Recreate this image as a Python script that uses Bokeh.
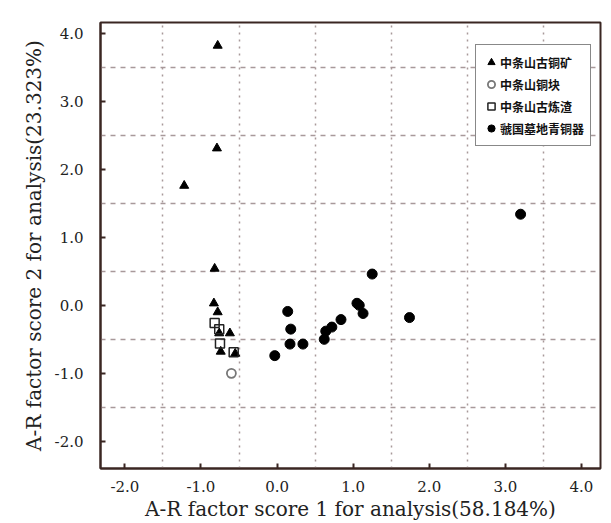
from bokeh.plotting import figure
from bokeh.models import Range1d, FixedTicker, PrintfTickFormatter, Legend, LegendItem
from bokeh.embed import file_html
from bokeh.resources import INLINE

# ---- data ----
x_ticks = [-2, -1, 0, 1, 2, 3, 4]
y_ticks = [-2, -1, 0, 1, 2, 3, 4]
x_grid = [-1.5, -0.5, 0.5, 1.5, 2.5, 3.5]
y_grid = [-1.5, -0.5, 0.5, 1.5, 2.5, 3.5]

series_names = ["中条山古铜矿", "中条山铜块", "中条山古炼渣", "虢国墓地青铜器"]

ore_x = [-0.78, -0.79, -1.22, -0.82, -0.83, -0.78, -0.62, -0.76, -0.74, -0.55]
ore_y = [3.82, 2.31, 1.76, 0.54, 0.03, -0.10, -0.41, -0.41, -0.68, -0.71]

lump_x = [-0.60]
lump_y = [-1.00]

slag_x = [-0.82, -0.76, -0.75, -0.57]
slag_y = [-0.26, -0.35, -0.56, -0.69]

bronze_x = [-0.03, 0.14, 0.18, 0.17, 0.34, 0.62, 0.64, 0.72, 0.84, 1.05, 1.08, 1.13, 1.25, 1.74, 3.20]
bronze_y = [-0.74, -0.09, -0.35, -0.57, -0.57, -0.50, -0.38, -0.32, -0.21, 0.03, 0.00, -0.12, 0.46, -0.18, 1.34]

x_title = "A-R factor score 1 for analysis(58.184%)"
y_title = "A-R factor score 2 for analysis(23.323%)"

# ---- figure ----
DARK = "#3a2622"
GRID = "#a8999a"
SERIF = "DejaVu Serif"

p = figure(width=611, height=523, output_backend="svg", toolbar_location=None,
           x_range=Range1d(-2.32, 4.25), y_range=Range1d(-2.4, 4.16),
           min_border_left=100, min_border_right=11, min_border_top=22, min_border_bottom=55,
           background_fill_color="white", border_fill_color="white")

p.outline_line_color = DARK
p.outline_line_width = 2

for ax, ticks in ((p.xaxis[0], x_ticks), (p.yaxis[0], y_ticks)):
    ax.ticker = FixedTicker(ticks=ticks)
    ax.formatter = PrintfTickFormatter(format="%.1f")
    ax.axis_line_color = DARK
    ax.axis_line_width = 2
    ax.major_tick_line_color = DARK
    ax.major_tick_line_width = 2
    ax.major_tick_in = 5
    ax.major_tick_out = 0
    ax.minor_tick_line_color = None
    ax.major_label_text_font = SERIF
    ax.major_label_text_font_size = "15px"
    ax.major_label_text_color = "#222222"
    ax.axis_label_text_font = SERIF
    ax.axis_label_text_font_size = "20px"
    ax.axis_label_text_font_style = "normal"
    ax.axis_label_text_color = "#222222"

p.xaxis[0].axis_label = x_title
p.yaxis[0].axis_label = y_title
p.xaxis[0].major_label_standoff = 12
p.xaxis[0].axis_label_standoff = 2
p.yaxis[0].major_label_standoff = 17
p.yaxis[0].axis_label_standoff = 6

p.xgrid.ticker = FixedTicker(ticks=x_grid)
p.ygrid.ticker = FixedTicker(ticks=y_grid)
p.xgrid.grid_line_color = GRID
p.xgrid.grid_line_dash = "2 5"
p.xgrid.grid_line_width = 1.5
p.ygrid.grid_line_color = GRID
p.ygrid.grid_line_dash = "5 5"
p.ygrid.grid_line_width = 1.5

r_ore = p.scatter(ore_x, ore_y, marker="triangle", size=9, color="black")
r_lump = p.scatter(lump_x, lump_y, marker="circle", size=9, fill_color=None,
                   line_color="#777777", line_width=1.8)
r_slag = p.scatter(slag_x, slag_y, marker="square", size=9, fill_color=None,
                   line_color="#222222", line_width=1.5)
r_bronze = p.scatter(bronze_x, bronze_y, marker="circle", size=10, color="black")

legend = Legend(items=[LegendItem(label=n, renderers=[r]) for n, r in
                       zip(series_names, [r_ore, r_lump, r_slag, r_bronze])],
                location=(375, 322))
legend.label_text_font = "Noto Sans CJK SC"
legend.label_text_font_style = "bold"
legend.label_text_font_size = "12px"
legend.label_text_color = "#111111"
legend.label_height = 22
legend.glyph_height = 18
legend.glyph_width = 18
legend.label_standoff = 0
legend.spacing = 0
legend.padding = 6
legend.margin = 0
legend.border_line_color = "#111111"
legend.border_line_width = 1.5
legend.background_fill_color = "white"
legend.background_fill_alpha = 1
p.add_layout(legend, "center")

open("out.html", "w").write(file_html(p, INLINE))
